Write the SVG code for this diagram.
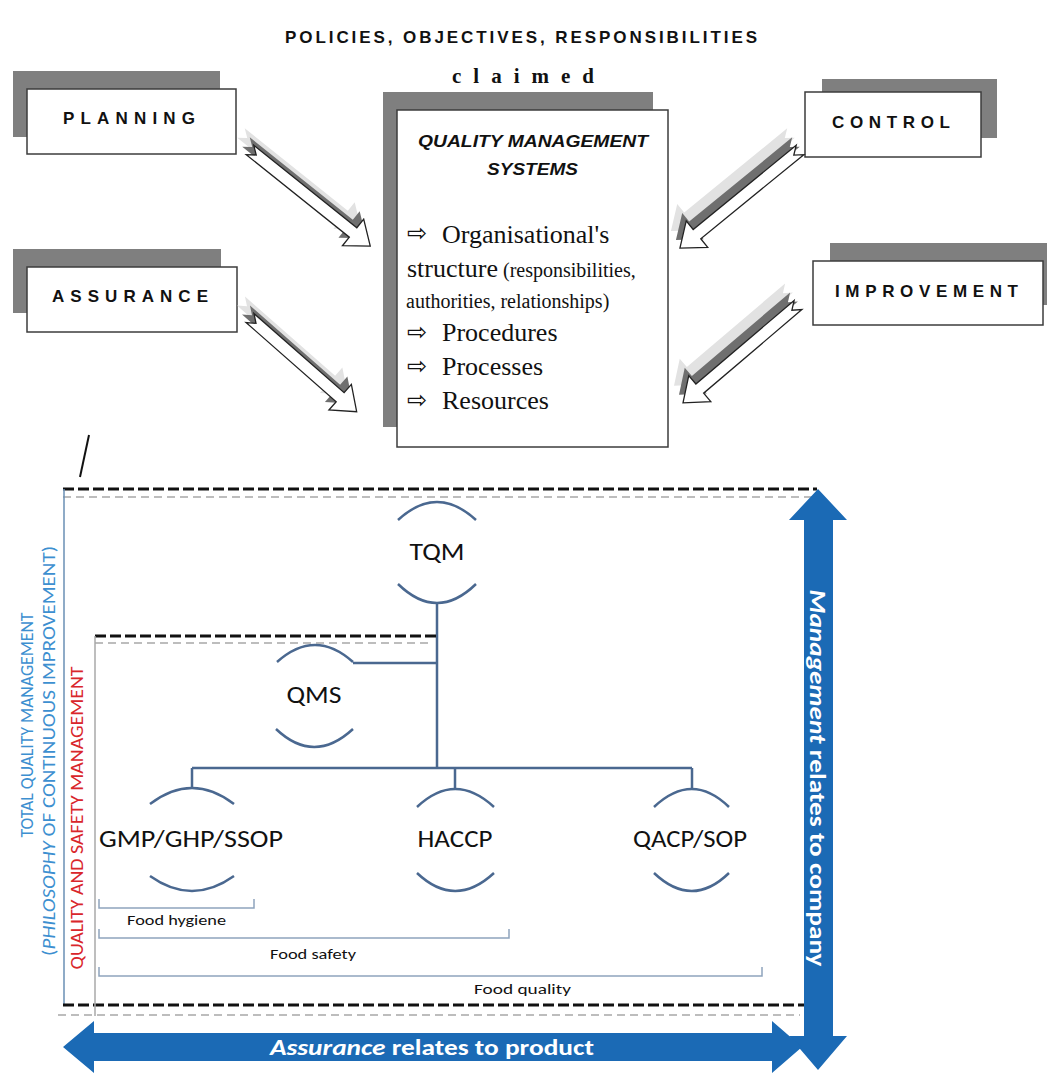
<svg xmlns="http://www.w3.org/2000/svg" width="1047" height="1074" viewBox="0 0 1047 1074">
<defs>
<style>
.bx{fill:#fff;stroke:#3c3c3c;stroke-width:1.5}
.sh{fill:#7f7f7f}
.lb{font-family:"Liberation Sans",Arial,sans-serif;font-weight:bold;font-size:17px;fill:#111}
.ser{font-family:"Liberation Serif","Times New Roman",serif;fill:#111}
.arw{font-family:"DejaVu Sans",sans-serif;font-size:24px;fill:#111}
.tr{fill:none;stroke:#4a6890;stroke-width:2.5}
.cb{font-family:Carlito,Lato,"Open Sans",sans-serif}
.nd{font-size:24px;fill:#111;text-anchor:middle}
.br{fill:none;stroke:#8ea4bd;stroke-width:1.5}
.sm{font-size:15px;fill:#111}
.bd{stroke:#111;stroke-width:3;stroke-dasharray:11 4}
.gd{stroke:#bdbdbd;stroke-width:2;stroke-dasharray:8 5}
.blue{fill:#1b6ab5}
.wt{fill:#fff;font-weight:bold}
.s1{fill:#e2e2e2}
.s2{fill:#6f6f6f}
.wa{fill:#fff;stroke:#222;stroke-width:1.3}
</style>
<path id="a1" d="M0,-6 H132 V-17 L154,0 L132,17 V6 H0 L8,0 Z"/>
<path id="a2" d="M0,-6 H120 V-17 L142,0 L120,17 V6 H0 L8,0 Z"/>
<path id="a3" d="M0,-6 H133 V-17 L155,0 L133,17 V6 H0 L8,0 Z"/>
<path id="a4" d="M0,-6 H129 V-17 L151,0 L129,17 V6 H0 L8,0 Z"/>
</defs>
<rect width="1047" height="1074" fill="#fff"/>

<text id="title" class="lb" x="285" y="43" font-size="18" textLength="472" lengthAdjust="spacing">POLICIES, OBJECTIVES, RESPONSIBILITIES</text>

<g id="planning">
<rect class="sh" x="13" y="71" width="207" height="66"/>
<rect class="bx" x="27" y="89" width="209" height="65"/>
<text class="lb" x="63" y="124" textLength="132" lengthAdjust="spacing">PLANNING</text>
</g>
<g id="assurance">
<rect class="sh" x="13" y="249" width="208" height="64"/>
<rect class="bx" x="27" y="267" width="210" height="65"/>
<text class="lb" x="52" y="302" textLength="156" lengthAdjust="spacing">ASSURANCE</text>
</g>
<g id="control">
<rect class="sh" x="822" y="79" width="175" height="59"/>
<rect class="bx" x="805" y="92" width="176" height="65"/>
<text class="lb" x="832" y="128" textLength="118" lengthAdjust="spacing">CONTROL</text>
</g>
<g id="improvement">
<rect class="sh" x="830" y="243" width="217" height="62"/>
<rect class="bx" x="813" y="261" width="230" height="64"/>
<text class="lb" x="835" y="297" textLength="183" lengthAdjust="spacing">IMPROVEMENT</text>
</g>

<g id="qms-system">
<text class="ser" x="452" y="83" font-size="21" font-weight="bold" textLength="142" lengthAdjust="spacing">claimed</text>
<rect class="sh" x="383" y="92" width="270" height="335"/>
<rect class="bx" x="397" y="110" width="271" height="337"/>
<text class="lb" x="418" y="147" font-size="25" font-style="italic" textLength="230" lengthAdjust="spacingAndGlyphs">QUALITY MANAGEMENT</text>
<text class="lb" x="487" y="175" font-size="25" font-style="italic" textLength="91" lengthAdjust="spacingAndGlyphs">SYSTEMS</text>
<text class="arw" x="407" y="241">⇨</text>
<text class="ser" x="442" y="243" font-size="26">Organisational's</text>
<text class="ser" x="407" y="277" font-size="26">structure<tspan font-size="20"> (responsibilities,</tspan></text>
<text class="ser" x="406" y="308" font-size="20">authorities, relationships)</text>
<text class="arw" x="407" y="340">⇨</text>
<text class="ser" x="442" y="341" font-size="26">Procedures</text>
<text class="arw" x="407" y="374">⇨</text>
<text class="ser" x="442" y="375" font-size="26">Processes</text>
<text class="arw" x="407" y="408">⇨</text>
<text class="ser" x="442" y="409" font-size="26">Resources</text>
</g>

<g id="connectors">
<g id="arrow-planning">
<use href="#a1" class="s1" transform="translate(241,133) rotate(38.66)"/>
<use href="#a1" class="s2" transform="translate(246,142) rotate(38.66)"/>
<use href="#a1" class="wa" transform="translate(250,150) rotate(38.66)"/>
</g>
<g id="arrow-assurance">
<use href="#a2" class="s1" transform="translate(241,301) rotate(41.3)"/>
<use href="#a2" class="s2" transform="translate(246,310) rotate(41.3)"/>
<use href="#a2" class="wa" transform="translate(250,318) rotate(41.3)"/>
</g>
<g id="arrow-control">
<use href="#a3" class="s1" transform="translate(791,133) rotate(140.77)"/>
<use href="#a3" class="s2" transform="translate(796,142) rotate(140.77)"/>
<use href="#a3" class="wa" transform="translate(800,150) rotate(140.77)"/>
</g>
<g id="arrow-improvement">
<use href="#a4" class="s1" transform="translate(789,288) rotate(139.6)"/>
<use href="#a4" class="s2" transform="translate(794,297) rotate(139.6)"/>
<use href="#a4" class="wa" transform="translate(798,305) rotate(139.6)"/>
</g>
<path d="M89,435 L80,477" stroke="#111" stroke-width="2" fill="none"/>
<g id="tree-lines">
<path class="tr" d="M437,603 V768 M353,663 H437 M192,768 H692 M192,768 V788 M455,768 V789 M692,768 V789"/>
</g>
</g>

<g id="frames">
<line class="bd" x1="63" y1="489" x2="817" y2="489"/>
<line class="gd" x1="63" y1="497" x2="812" y2="497"/>
<line x1="64" y1="489" x2="64" y2="1006" stroke="#6a8fb5" stroke-width="1.5"/>
<line class="bd" x1="63" y1="1005" x2="830" y2="1005"/>
<line class="gd" x1="58" y1="1015" x2="800" y2="1015"/>
<line class="bd" x1="95" y1="636" x2="437" y2="636"/>
<line class="gd" x1="95" y1="643" x2="430" y2="643"/>
<line x1="95" y1="636" x2="95" y2="1016" stroke="#a8a8a8" stroke-width="1.5"/>
</g>

<g id="tqm">
<path class="tr" d="M398,520 Q437,484 476,520 M398,584 Q437,622 476,584"/>
<text class="cb nd" x="437" y="560" textLength="55" lengthAdjust="spacingAndGlyphs">TQM</text>
</g>
<g id="qms">
<path class="tr" d="M277,662 Q315,628 353,662 M276,729 Q314,765 353,729"/>
<text class="cb nd" x="314" y="703" textLength="55" lengthAdjust="spacingAndGlyphs">QMS</text>
</g>
<g id="gmp">
<path class="tr" d="M150,804 Q192,772 234,804 M150,876 Q192,906 234,876"/>
<text class="cb nd" x="191" y="847" textLength="184" lengthAdjust="spacingAndGlyphs">GMP/GHP/SSOP</text>
</g>
<g id="haccp">
<path class="tr" d="M417,807 Q455,771 494,807 M417,873 Q455,909 494,873"/>
<text class="cb nd" x="455" y="847" textLength="75" lengthAdjust="spacingAndGlyphs">HACCP</text>
</g>
<g id="qacp">
<path class="tr" d="M654,807 Q692,771 729,807 M654,873 Q692,909 729,873"/>
<text class="cb nd" x="690" y="847" textLength="114" lengthAdjust="spacingAndGlyphs">QACP/SOP</text>
</g>

<g id="scopes">
<path class="br" d="M99,899 V908 H254 V899 M99,929 V938 H509 V929 M99,967 V976 H762 V967"/>
<text class="cb sm" x="127" y="925" textLength="99" lengthAdjust="spacingAndGlyphs">Food hygiene</text>
<text class="cb sm" x="270" y="959" textLength="86" lengthAdjust="spacingAndGlyphs">Food safety</text>
<text class="cb sm" x="474" y="994" textLength="97" lengthAdjust="spacingAndGlyphs">Food quality</text>
</g>

<g id="side-labels">
<text class="cb" transform="translate(33,725) rotate(-90)" text-anchor="middle" fill="#3d8fd0" font-size="18" textLength="225" lengthAdjust="spacingAndGlyphs">TOTAL QUALITY MANAGEMENT</text>
<text class="cb" transform="translate(55,751) rotate(-90)" text-anchor="middle" fill="#3d8fd0" font-size="19" textLength="410" lengthAdjust="spacingAndGlyphs">(<tspan font-style="italic">PHILOSOPHY</tspan> OF CONTINUOUS IMPROVEMENT)</text>
<text class="cb" transform="translate(83,818) rotate(-90)" text-anchor="middle" fill="#d9262b" font-size="19" textLength="303" lengthAdjust="spacingAndGlyphs">QUALITY AND SAFETY MANAGEMENT</text>
</g>

<g id="management-arrow">
<path class="blue" d="M818,489 L847,520 H833 V1036 H847 L818,1070 L789,1036 H804 V520 H789 Z"/>
<text class="cb wt" transform="translate(818,778) rotate(90)" y="8" text-anchor="middle" font-size="23" textLength="377" lengthAdjust="spacingAndGlyphs"><tspan font-style="italic">Management</tspan> relates to company</text>
</g>
<g id="assurance-arrow">
<path class="blue" d="M63,1047 L94,1021 V1033 H772 V1021 L802,1047 L772,1073 V1061 H94 V1073 Z"/>
<text class="cb wt" x="432" y="1055" text-anchor="middle" font-size="23" textLength="324" lengthAdjust="spacingAndGlyphs"><tspan font-style="italic">Assurance</tspan> relates to product</text>
</g>
</svg>
